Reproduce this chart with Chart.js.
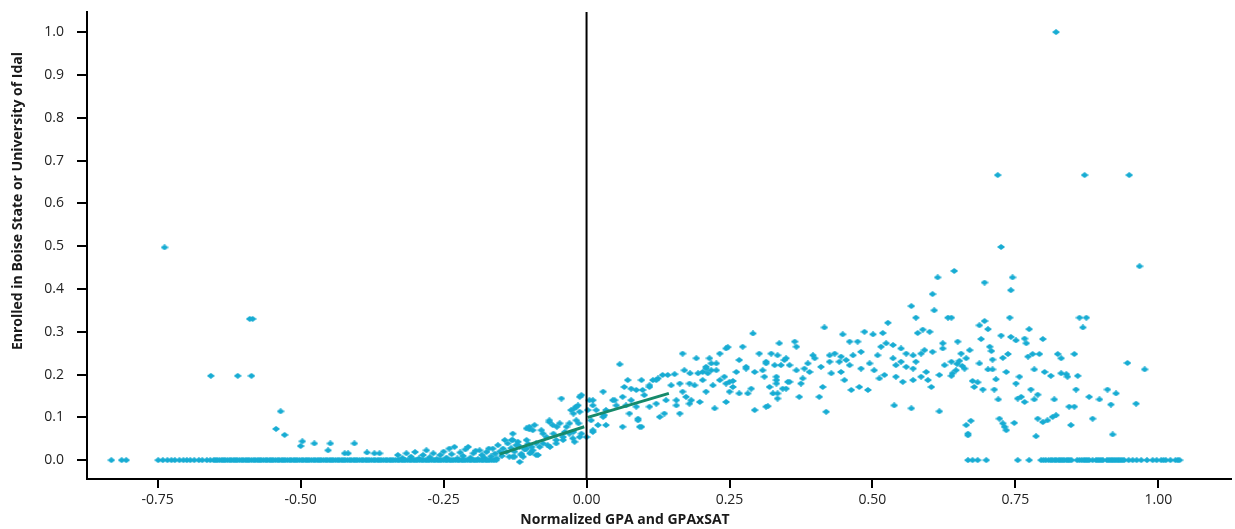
<!DOCTYPE html>
<html><head><meta charset="utf-8">
<script src="https://cdn.jsdelivr.net/npm/chart.js@4"></script>
<style>html,body{margin:0;padding:0;background:#fff;}#wrap{width:1235px;height:529px;}</style>
</head><body><div id="wrap"><canvas id="c" width="1235" height="529"></canvas></div>
<script>
const xTicks = [-0.75, -0.5, -0.25, 0, 0.25, 0.5, 0.75, 1.0];
const yTicks = [0, 0.1, 0.2, 0.3, 0.4, 0.5, 0.6, 0.7, 0.8, 0.9, 1.0];
const xTitle = 'Normalized GPA and GPAxSAT';
const yTitle = 'Enrolled in Boise State or University of Idal';

// points lying on the 0.0 row
const zeroRowX = [-0.831,-0.813,-0.805,
 -0.749,-0.741,-0.733,-0.726,-0.720,-0.712,-0.705,-0.699,-0.693,-0.686,-0.678,-0.672,-0.664,-0.658,
 -0.652,-0.649,-0.646,-0.642,-0.638,-0.635,-0.632,-0.628,-0.624,-0.621,-0.617,-0.614,-0.611,-0.607,-0.603,-0.600,
 -0.596,-0.593,-0.590,-0.586,-0.582,-0.579,-0.575,-0.572,-0.569,-0.565,-0.561,-0.558,-0.554,-0.551,-0.548,-0.544,
 -0.540,-0.537,-0.533,-0.530,-0.527,-0.523,-0.519,-0.516,-0.512,-0.509,-0.506,-0.502,-0.498,-0.495,-0.491,-0.488,
 -0.485,-0.481,-0.477,-0.474,-0.470,-0.467,-0.464,-0.460,-0.456,-0.453,-0.449,-0.446,-0.443,-0.439,-0.435,-0.432,
 -0.428,-0.425,-0.422,-0.418,-0.414,-0.411,-0.407,-0.404,-0.401,-0.397,-0.393,-0.390,-0.386,-0.383,-0.380,-0.376,
 -0.372,-0.369,-0.365,-0.362,-0.359,-0.355,-0.351,-0.348,-0.344,-0.341,-0.338,-0.334,-0.330,-0.327,-0.323,-0.320,
 -0.317,-0.313,-0.309,-0.306,-0.302,-0.299,-0.296,-0.292,-0.288,-0.285,-0.281,-0.278,-0.275,-0.271,-0.267,-0.264,
 -0.260,-0.257,-0.254,-0.250,-0.246,-0.243,-0.239,-0.236,-0.233,-0.229,-0.225,-0.222,-0.218,-0.215,-0.212,-0.208,
 -0.204,-0.201,-0.197,-0.194,-0.191,-0.187,-0.183,-0.180,-0.176,-0.173,-0.170,-0.166,-0.162,-0.158,
 0.667,0.675,0.684,0.699,0.754,0.774,
 0.795,0.799,0.803,0.808,0.812,0.815,0.819,0.822,0.826,0.829,0.832,0.835,0.839,0.842,0.845,0.848,0.858,0.862,
 0.866,0.870,0.873,0.876,0.879,0.885,0.891,0.894,0.897,0.900,0.903,0.910,0.913,0.916,0.919,0.922,0.925,0.928,
 0.931,0.934,0.937,0.940,0.948,0.955,0.962,0.970,0.980,0.990,0.997,1.005,1.009,1.013,1.021,1.030,1.034,1.037];

// left-side scattered points
const leftPoints = [[-0.738,0.497],[-0.589,0.330],[-0.584,0.330],[-0.657,0.197],[-0.610,0.197],[-0.586,0.197],
 [-0.535,0.114],[-0.543,0.073],[-0.528,0.059],[-0.497,0.044],[-0.500,0.033],[-0.476,0.039],[-0.448,0.039],
 [-0.452,0.023],[-0.406,0.039],[-0.423,0.016],[-0.417,0.016],[-0.384,0.018],[-0.371,0.016],[-0.362,0.016]];

// dense band just above zero, approaching the cutoff
const bandPoints = [[-0.330,0.012],[-0.322,0.005],[-0.315,0.016],[-0.307,0.008],[-0.300,0.019],[-0.293,0.004],
 [-0.286,0.012],[-0.280,0.023],[-0.274,0.007],[-0.268,0.016],[-0.262,0.002],[-0.256,0.012],[-0.250,0.020],
 [-0.245,0.006],[-0.240,0.027],[-0.236,0.014],[-0.231,0.031],[-0.226,0.004],[-0.221,0.018],[-0.216,0.010],
 [-0.212,0.025],[-0.207,0.031],[-0.203,0.006],[-0.198,0.016],[-0.194,0.022],[-0.190,0.002],[-0.187,0.023],
 [-0.183,0.012],[-0.179,0.006],[-0.175,0.019],[-0.171,0.027],[-0.167,0.009],[-0.164,0.027],[-0.160,0.015],
 [-0.157,0.004],[-0.155,0.035],[-0.152,0.020],[-0.148,0.010],[-0.146,0.027],[-0.143,0.047],[-0.140,0.019],
 [-0.138,0.039],[-0.135,0.008],[-0.132,0.028],[-0.129,0.062],[-0.129,0.047],[-0.129,0.008],[-0.126,0.020],
 [-0.123,0.035],[-0.120,0.043],[-0.117,0.031],[-0.117,-0.004],[-0.114,0.015],[-0.111,0.008],[-0.108,0.025],
 [-0.105,0.074],[-0.105,0.027],[-0.105,0.047],[-0.102,0.038],[-0.100,0.072],[-0.100,0.078],[-0.097,0.018],
 [-0.094,0.023],[-0.094,0.070],[-0.091,0.082],[-0.088,0.012],[-0.088,0.039],[-0.085,0.012],
 [-0.131,0.047],[-0.120,0.035],[-0.108,0.027],[-0.096,0.031],[-0.076,0.039],[-0.064,0.031],[-0.058,0.062],
 [-0.038,0.066],[-0.023,0.066],[-0.014,0.086],[-0.023,0.109],[-0.052,0.078],[-0.114,0.012],[-0.126,0.008],
 [-0.099,0.016],
 [-0.079,0.070],[-0.076,0.062],[-0.065,0.089],[-0.059,0.082],[-0.047,0.086],[-0.044,0.144],[-0.035,0.078],
 [-0.030,0.062],[-0.027,0.117],[-0.021,0.121],[-0.018,0.125],[-0.015,0.128],[-0.012,0.148],[-0.009,0.152],
 [-0.012,0.113],[-0.018,0.093],[-0.012,0.054],[-0.024,0.051],[-0.041,0.047],[-0.053,0.039],[-0.068,0.035],
 [-0.082,0.031],[-0.030,0.086],[-0.065,0.093],[-0.070,0.054],[-0.053,0.047],[-0.041,0.054],[-0.021,0.043],
 [-0.009,0.062]];

// right-side cloud
const rightPoints = [[0.058,0.224],[0.005,0.140],[0.011,0.128],[0.002,0.117],[0.017,0.117],[0.029,0.160],
 [0.031,0.105],[0.008,0.093],[0.020,0.082],[0.011,0.066],[0.000,0.054],[0.034,0.082],[0.049,0.140],[0.052,0.128],
 [0.063,0.148],[0.063,0.078],[0.072,0.187],[0.066,0.171],[0.078,0.167],[0.087,0.164],[0.096,0.187],[0.098,0.164],
 [0.110,0.175],[0.116,0.187],[0.125,0.191],[0.133,0.199],[0.142,0.199],[0.078,0.140],[0.087,0.125],[0.075,0.109],
 [0.090,0.097],[0.096,0.078],[0.110,0.125],[0.122,0.132],[0.128,0.101],[0.136,0.109],[0.139,0.140],[0.157,0.140],
 [0.163,0.109],[0.157,0.128],[0.168,0.249],[0.171,0.210],[0.163,0.179],[0.168,0.160],[0.180,0.179],[0.183,0.140],
 [0.192,0.238],[0.195,0.203],[0.203,0.206],[0.209,0.218],[0.212,0.203],[0.218,0.210],[0.215,0.238],[0.224,0.121],
 [0.227,0.226],[0.233,0.249],[0.244,0.261],[0.241,0.195],[0.250,0.183],[0.256,0.171],[0.262,0.206],[0.267,0.234],
 [0.273,0.265],[0.279,0.218],[0.282,0.156],[0.288,0.167],[0.291,0.296],[0.294,0.117],[0.302,0.249],[0.308,0.210],
 [0.314,0.230],[0.314,0.125],[0.320,0.171],[0.323,0.249],[0.332,0.195],[0.337,0.273],[0.340,0.222],[0.343,0.167],
 [0.349,0.238],[0.355,0.183],[0.364,0.277],[0.367,0.210],
 [0.247,0.264],[0.317,0.126],[0.093,0.078],[0.090,0.093],[0.180,0.132],[0.174,0.148],[0.250,0.160],[0.267,0.156],
 [0.244,0.179],[0.256,0.185],[0.279,0.214],[0.294,0.206],[0.311,0.195],[0.314,0.226],[0.332,0.179],[0.334,0.156],
 [0.122,0.187],[0.154,0.201],[0.110,0.171],[0.148,0.175],[0.101,0.152],[0.046,0.140],[0.011,0.140],[0.069,0.128],
 [0.034,0.117],[0.029,0.101],[0.011,0.070],[0.189,0.175],[0.203,0.187],[0.209,0.160],[0.221,0.175],[0.233,0.187],
 [0.198,0.136],[0.244,0.136],[0.181,0.203],[0.209,0.214],[0.227,0.210],[0.218,0.226],
 [0.416,0.310],[0.568,0.360],[0.576,0.333],[0.608,0.350],[0.632,0.333],[0.638,0.333],[0.448,0.294],[0.486,0.300],
 [0.501,0.294],[0.518,0.297],[0.527,0.321],[0.579,0.297],[0.588,0.305],[0.600,0.300],[0.367,0.265],[0.460,0.277],
 [0.474,0.277],[0.480,0.253],[0.515,0.265],[0.524,0.273],[0.536,0.269],[0.550,0.261],[0.559,0.249],[0.571,0.245],
 [0.585,0.249],[0.591,0.257],[0.605,0.253],[0.623,0.273],[0.623,0.261],[0.649,0.277],[0.655,0.249],[0.664,0.238],
 [0.334,0.245],[0.346,0.234],[0.329,0.222],[0.355,0.222],[0.381,0.214],[0.387,0.226],[0.396,0.245],[0.399,0.238],
 [0.425,0.245],[0.434,0.249],[0.445,0.242],[0.454,0.234],[0.466,0.245],[0.442,0.230],[0.460,0.222],[0.425,0.230],
 [0.410,0.218],[0.390,0.206],[0.378,0.191],[0.375,0.179],[0.352,0.183],[0.349,0.167],[0.332,0.187],[0.326,0.156],
 [0.334,0.144],[0.372,0.148],[0.407,0.148],[0.413,0.171],[0.419,0.113],[0.428,0.203],[0.445,0.206],[0.451,0.187],
 [0.463,0.164],[0.477,0.171],[0.492,0.164],[0.480,0.214],[0.495,0.226],[0.503,0.210],[0.512,0.191],[0.521,0.199],
 [0.509,0.245],[0.536,0.238],[0.541,0.222],[0.550,0.230],[0.559,0.218],[0.571,0.214],[0.576,0.230],[0.541,0.195],
 [0.553,0.183],[0.571,0.187],[0.585,0.195],[0.594,0.206],[0.597,0.187],[0.603,0.171],[0.617,0.199],[0.626,0.222],
 [0.638,0.230],[0.640,0.203],[0.646,0.210],[0.661,0.214],[0.538,0.128],[0.568,0.121],[0.617,0.114],[0.664,0.082],
 [0.667,0.062],
 [0.821,1.000],[0.719,0.666],[0.871,0.666],[0.949,0.666],[0.725,0.498],[0.967,0.453],[0.614,0.427],[0.643,0.442],
 [0.696,0.415],[0.745,0.427],[0.742,0.397],[0.605,0.388],[0.740,0.333],[0.862,0.333],[0.874,0.333],[0.868,0.310],
 [0.687,0.315],[0.696,0.325],[0.702,0.306],[0.774,0.306],[0.690,0.283],[0.725,0.291],[0.742,0.288],[0.751,0.280],
 [0.766,0.284],[0.769,0.273],[0.798,0.283],[0.670,0.257],[0.705,0.265],[0.708,0.255],[0.710,0.235],[0.737,0.248],
 [0.728,0.239],[0.772,0.242],[0.780,0.248],[0.792,0.248],[0.824,0.248],[0.830,0.238],[0.853,0.248],[0.648,0.225],
 [0.652,0.232],[0.657,0.220],[0.687,0.226],[0.702,0.212],[0.710,0.212],[0.734,0.206],[0.757,0.195],[0.783,0.212],
 [0.801,0.206],[0.812,0.197],[0.830,0.203],[0.839,0.201],[0.841,0.195],[0.859,0.197],[0.946,0.227],[0.976,0.212],
 [0.638,0.197],[0.675,0.185],[0.684,0.182],[0.678,0.171],[0.693,0.165],[0.716,0.189],[0.713,0.165],[0.751,0.179],
 [0.777,0.165],[0.789,0.153],[0.760,0.148],[0.766,0.136],[0.754,0.144],[0.720,0.142],[0.783,0.142],[0.818,0.142],
 [0.856,0.165],[0.879,0.148],[0.897,0.142],[0.911,0.165],[0.926,0.156],[0.917,0.130],[0.961,0.132],[0.844,0.125],
 [0.853,0.125],[0.885,0.097],[0.789,0.097],[0.798,0.089],[0.806,0.093],[0.815,0.101],[0.821,0.105],[0.748,0.087],
 [0.722,0.097],[0.728,0.086],[0.731,0.078],[0.734,0.070],[0.672,0.092],[0.667,0.058],[0.786,0.056],[0.847,0.082],
 [0.920,0.060]];

const fitLeft = [[-0.152,0.014],[-0.004,0.078]];
const fitRight = [[0.002,0.100],[0.144,0.156]];
const cutoffLine = [[0,-0.044],[0,1.047]];

const toXY = a => a.map(p => ({x: p[0], y: p[1]}));
const scatterData = toXY(leftPoints).concat(toXY(bandPoints), toXY(rightPoints), zeroRowX.map(x => ({x: x, y: 0})));

const dot = document.createElement('canvas');
dot.width = 8; dot.height = 6;
(function(){const g = dot.getContext('2d'); g.fillStyle = '#17acd3'; g.beginPath();
 g.moveTo(0,3); g.lineTo(4,0); g.lineTo(8,3); g.lineTo(4,6); g.closePath(); g.fill();})();

const titlePlugin = {
  id: 'titles',
  afterDraw(chart) {
    const ctx = chart.ctx;
    ctx.save();
    ctx.fillStyle = '#1a1a1a';
    ctx.font = 'bold 14px "Open Sans"';
    ctx.textAlign = 'center';
    ctx.textBaseline = 'middle';
    ctx.fillText(xTitle, 625, 520);
    ctx.translate(18.5, 201);
    ctx.rotate(-Math.PI / 2);
    ctx.fillText(yTitle, 0, 0);
    ctx.restore();
  }
};

const tickFont = {family: '"Open Sans"', size: 14};
new Chart(document.getElementById('c'), {
  type: 'scatter',
  data: {
    datasets: [
      {data: toXY(cutoffLine), showLine: true, borderColor: '#000', borderWidth: 2, pointRadius: 0, order: 0},
      {data: toXY(fitLeft), showLine: true, borderColor: '#168a6b', borderWidth: 3, pointRadius: 0, order: 1},
      {data: toXY(fitRight), showLine: true, borderColor: '#168a6b', borderWidth: 3, pointRadius: 0, order: 1},
      {data: scatterData, pointStyle: dot, pointRadius: 4, backgroundColor: '#17acd3', borderWidth: 0, order: 2}
    ]
  },
  options: {
    responsive: false, animation: false, devicePixelRatio: 1,
    layout: {padding: {top: 12, right: 3, left: 0, bottom: 0}},
    plugins: {legend: {display: false}, tooltip: {enabled: false}},
    scales: {
      x: {
        type: 'linear', position: 'bottom', min: -0.8736, max: 1.127,
        afterBuildTicks: s => { s.ticks = xTicks.map(v => ({value: v})); },
        afterFit: s => { s.height = 50; s.paddingLeft = 0; s.paddingRight = 0; },
        grid: {drawOnChartArea: false, drawTicks: true, tickLength: 9, color: '#000', lineWidth: 2},
        border: {color: '#000', width: 2},
        ticks: {padding: 4, color: '#222', font: tickFont, maxRotation: 0, callback: v => Number(v).toFixed(2)}
      },
      y: {
        type: 'linear', min: -0.044, max: 1.047,
        afterBuildTicks: s => { s.ticks = yTicks.map(v => ({value: v})); },
        afterFit: s => { s.width = 87; s.paddingTop = 0; s.paddingBottom = 0; },
        grid: {drawOnChartArea: false, drawTicks: true, tickLength: 10, color: '#000', lineWidth: 2},
        border: {color: '#000', width: 2},
        ticks: {padding: 13, color: '#222', font: tickFont, callback: v => Number(v).toFixed(1)}
      }
    }
  },
  plugins: [titlePlugin]
});
</script>
</body></html>
